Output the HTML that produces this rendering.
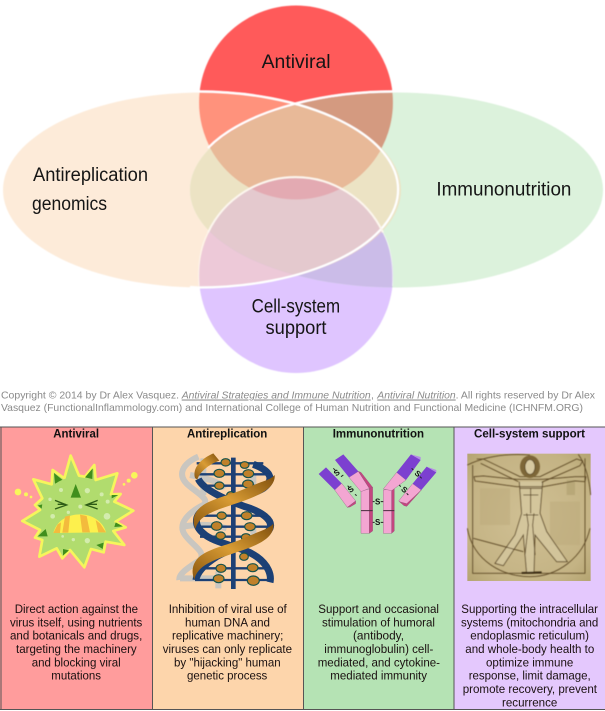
<!DOCTYPE html>
<html><head><meta charset="utf-8"><style>
html,body{margin:0;padding:0;background:#fff}
svg{display:block}
text{font-family:"Liberation Sans",sans-serif}
.v{font-size:19px;fill:#151515}
.c{font-size:10.4px;fill:#8a8a8a}
.i{font-style:italic;text-decoration:underline}
.h{font-size:12.2px;font-weight:bold;fill:#111}
.b{font-size:12.2px;fill:#1a1010}
</style></head><body>
<svg width="605" height="711" viewBox="0 0 605 711" xmlns="http://www.w3.org/2000/svg">
<defs>
<clipPath id="cT"><ellipse cx="296" cy="102.5" rx="97" ry="97"/></clipPath>
<clipPath id="cB"><ellipse cx="296" cy="275.5" rx="97" ry="97.5"/></clipPath>
<clipPath id="cL"><ellipse cx="202" cy="190" rx="199" ry="97.5"/></clipPath>
<clipPath id="cR"><ellipse cx="396.5" cy="190" rx="206.5" ry="97.5"/></clipPath>
<linearGradient id="gold" x1="0" y1="1" x2="1" y2="0">
<stop offset="0" stop-color="#8a5610"/><stop offset=".5" stop-color="#d99c34"/><stop offset="1" stop-color="#7e4e0c"/>
</linearGradient>
<radialGradient id="par" cx=".5" cy=".5" r=".75">
<stop offset="0" stop-color="#d0c094"/><stop offset=".7" stop-color="#c4b384"/><stop offset="1" stop-color="#b0a06c"/>
</radialGradient>
<filter id="s" x="-5%" y="-5%" width="110%" height="110%"><feGaussianBlur stdDeviation=".45"/></filter>
<filter id="s2" x="-5%" y="-5%" width="110%" height="110%"><feGaussianBlur stdDeviation="1.6"/></filter>
</defs>

<!-- Venn -->
<g filter="url(#s)">
<ellipse cx="296" cy="102.5" rx="97" ry="97" fill="#ff5a5a"/>
<ellipse cx="296" cy="275.5" rx="97" ry="97.5" fill="#dfc5ff"/>
<ellipse cx="202" cy="190" rx="199" ry="97.5" fill="#fdebd9"/>
<ellipse cx="396.5" cy="190" rx="206.5" ry="97.5" fill="#dcf2dc"/>
<g clip-path="url(#cL)"><rect width="605" height="400" fill="#ece3c4" clip-path="url(#cR)"/></g>
<g clip-path="url(#cT)">
<rect width="605" height="400" fill="#ff927c" clip-path="url(#cL)"/>
<rect width="605" height="400" fill="#d49a80" clip-path="url(#cR)"/>
<g clip-path="url(#cL)"><rect width="605" height="400" fill="#e8b998" clip-path="url(#cR)"/></g>
</g>
<g clip-path="url(#cB)">
<rect width="605" height="400" fill="#edc9d8" clip-path="url(#cL)"/>
<rect width="605" height="400" fill="#cbbce8" clip-path="url(#cR)"/>
<g clip-path="url(#cL)"><rect width="605" height="400" fill="#e4c9ce" clip-path="url(#cR)"/></g>
<g clip-path="url(#cT)"><rect width="605" height="400" fill="#e3aab2"/></g>
</g>
<path d="M198,91.5 A199 97.5 0 1 1 198,287.5 L190,287" fill="none" stroke="#fff" stroke-width="2.2"/>
<path d="M393,91.5 A206.5 97.5 0 0 0 208,148" fill="none" stroke="#fff" stroke-width="2.2"/>
<path d="M208,232.5 A97 97.5 0 0 1 383,232.5" fill="none" stroke="#fdf6ee" stroke-width="2"/>
<path d="M208,232.5 Q197,252 199,286 M383,232.5 Q394,252 392.5,286" fill="none" stroke="#fff" stroke-width="1" opacity=".55"/>
</g>
<text class="v" x="261.6" y="68" textLength="69" lengthAdjust="spacingAndGlyphs">Antiviral</text>
<text class="v" x="33" y="181" textLength="115" lengthAdjust="spacingAndGlyphs">Antireplication</text>
<text class="v" x="32" y="210" textLength="75" lengthAdjust="spacingAndGlyphs">genomics</text>
<text class="v" x="436.4" y="195.5" textLength="135" lengthAdjust="spacingAndGlyphs">Immunonutrition</text>
<text class="v" x="251.6" y="312.5" textLength="88.5" lengthAdjust="spacingAndGlyphs">Cell-system</text>
<text class="v" x="265.5" y="334" textLength="61" lengthAdjust="spacingAndGlyphs">support</text>

<!-- Copyright -->
<text class="c" x="1" y="398.5" textLength="178" lengthAdjust="spacingAndGlyphs">Copyright © 2014 by Dr Alex Vasquez.</text>
<text class="c i" x="181.7" y="398.5" textLength="189" lengthAdjust="spacingAndGlyphs">Antiviral Strategies and Immune Nutrition</text>
<text class="c" x="371" y="398.5">,</text>
<text class="c i" x="377.3" y="398.5" textLength="78.4" lengthAdjust="spacingAndGlyphs">Antiviral Nutrition</text>
<text class="c" x="455.7" y="398.5" textLength="139.3" lengthAdjust="spacingAndGlyphs">. All rights reserved by Dr Alex</text>
<text class="c" x="1" y="410.8" textLength="582" lengthAdjust="spacingAndGlyphs">Vasquez (FunctionalInflammology.com) and International College of Human Nutrition and Functional Medicine (ICHNFM.ORG)</text>

<!-- Table -->
<rect x="0" y="426.5" width="152.5" height="283" fill="#ff9c9c"/>
<rect x="152.5" y="426.5" width="151" height="283" fill="#fdd5ab"/>
<rect x="303.5" y="426.5" width="150.5" height="283" fill="#b5e3b4"/>
<rect x="454" y="426.5" width="151" height="283" fill="#e4c8fd"/>
<path d="M0,427H605M0,709.5H605M1,427V709.5M152.5,427V709.5M303.5,427V709.5M454,427V709.5" stroke="#555" stroke-width="1" fill="none"/>

<text class="h" x="53.3" y="437.3" textLength="45.7" lengthAdjust="spacingAndGlyphs">Antiviral</text>
<text class="h" x="187" y="437.3" textLength="80.3" lengthAdjust="spacingAndGlyphs">Antireplication</text>
<text class="h" x="332.7" y="437.3" textLength="91.3" lengthAdjust="spacingAndGlyphs">Immunonutrition</text>
<text class="h" x="474" y="437.3" textLength="111" lengthAdjust="spacingAndGlyphs">Cell-system support</text>

<!-- Column 1 text -->
<text class="b" x="14.7" y="613" textLength="123.3" lengthAdjust="spacingAndGlyphs">Direct action against the</text>
<text class="b" x="10" y="626.3" textLength="132.3" lengthAdjust="spacingAndGlyphs">virus itself, using nutrients</text>
<text class="b" x="10" y="639.7" textLength="132.3" lengthAdjust="spacingAndGlyphs">and botanicals and drugs,</text>
<text class="b" x="16" y="653" textLength="120.7" lengthAdjust="spacingAndGlyphs">targeting the machinery</text>
<text class="b" x="31.7" y="666.3" textLength="89" lengthAdjust="spacingAndGlyphs">and blocking viral</text>
<text class="b" x="51.3" y="679.7" textLength="49.7" lengthAdjust="spacingAndGlyphs">mutations</text>
<!-- Column 2 text -->
<text class="b" x="168.7" y="613" textLength="118" lengthAdjust="spacingAndGlyphs">Inhibition of viral use of</text>
<text class="b" x="185" y="626.3" textLength="85" lengthAdjust="spacingAndGlyphs">human DNA and</text>
<text class="b" x="172" y="639.7" textLength="111.3" lengthAdjust="spacingAndGlyphs">replicative machinery;</text>
<text class="b" x="162.7" y="653" textLength="129.3" lengthAdjust="spacingAndGlyphs">viruses can only replicate</text>
<text class="b" x="174" y="666.3" textLength="106.7" lengthAdjust="spacingAndGlyphs">by "hijacking" human</text>
<text class="b" x="187" y="679.7" textLength="80.3" lengthAdjust="spacingAndGlyphs">genetic process</text>
<!-- Column 3 text -->
<text class="b" x="318.3" y="613" textLength="120.7" lengthAdjust="spacingAndGlyphs">Support and occasional</text>
<text class="b" x="322" y="626.3" textLength="113" lengthAdjust="spacingAndGlyphs">stimulation of humoral</text>
<text class="b" x="353" y="639.7" textLength="51" lengthAdjust="spacingAndGlyphs">(antibody,</text>
<text class="b" x="324.3" y="653" textLength="109" lengthAdjust="spacingAndGlyphs">immunoglobulin) cell-</text>
<text class="b" x="317.7" y="666.3" textLength="122.3" lengthAdjust="spacingAndGlyphs">mediated, and cytokine-</text>
<text class="b" x="330.3" y="679.7" textLength="96.7" lengthAdjust="spacingAndGlyphs">mediated immunity</text>
<!-- Column 4 text -->
<text class="b" x="461.3" y="613" textLength="136.7" lengthAdjust="spacingAndGlyphs">Supporting the intracellular</text>
<text class="b" x="461" y="626.3" textLength="137.3" lengthAdjust="spacingAndGlyphs">systems (mitochondria and</text>
<text class="b" x="470.3" y="639.7" textLength="118.7" lengthAdjust="spacingAndGlyphs">endoplasmic reticulum)</text>
<text class="b" x="465.3" y="653" textLength="129" lengthAdjust="spacingAndGlyphs">and whole-body health to</text>
<text class="b" x="486" y="666.3" textLength="87.3" lengthAdjust="spacingAndGlyphs">optimize immune</text>
<text class="b" x="468.7" y="679.7" textLength="122" lengthAdjust="spacingAndGlyphs">response, limit damage,</text>
<text class="b" x="462.7" y="693" textLength="134.3" lengthAdjust="spacingAndGlyphs">promote recovery, prevent</text>
<text class="b" x="502" y="706.3" textLength="55.3" lengthAdjust="spacingAndGlyphs">recurrence</text>

<!-- Virus -->
<g transform="translate(5 445) scale(.3333)" filter="url(#s)">
<polygon points="197,32 222,92 240,95 268,60 272,105 337,85 318,148 347,147 328,170 385,197 332,230 362,247 325,258 358,300 302,290 296,322 258,312 238,367 195,315 172,340 155,310 103,335 112,285 90,278 105,255 52,228 105,195 90,180 112,160 85,103 140,118 143,75 178,100"
 fill="#b1dc6e" stroke="#f6f55c" stroke-width="8" stroke-linejoin="round"/>
<g fill="#3f8f1e">
<polygon points="147,84 175,107 150,116"/><polygon points="263,70 262,102 240,97"/><polygon points="340,150 320,160 320,150"/>
<polygon points="354,244 328,246 332,232"/><polygon points="293,312 274,300 296,293"/><polygon points="174,332 174,312 192,316"/>
<polygon points="98,274 122,252 128,274"/><polygon points="98,182 120,176 112,192"/>
</g>
<circle cx="210" cy="197" r="100" fill="#b1dc6e"/>
<polygon points="212,117 228,158 197,158" fill="#3f8f1e"/>
<path d="M150,166 L185,180 L150,192 M158,178H182 M278,166 L243,180 L278,192 M250,178H276" fill="none" stroke="#2f5c18" stroke-width="4"/>
<path d="M145,264 C155,225 190,208 225,208 C262,208 295,230 303,262 Z" fill="#fdf04e"/>
<path d="M172,263 L180,215 L195,211 L190,263 Z M225,209 L245,213 L255,262 L232,262 Z M145,264 L158,238 L168,232 L165,264 Z M272,225 L285,235 L303,262 L280,262 Z" fill="#f3bb3e"/>
<g fill="#d3ecad"><circle cx="168" cy="135" r="6"/><circle cx="247" cy="137" r="8"/><circle cx="290" cy="148" r="6"/><circle cx="135" cy="163" r="5"/><circle cx="308" cy="170" r="6"/><circle cx="306" cy="214" r="10"/><circle cx="143" cy="214" r="7"/><circle cx="226" cy="185" r="6"/><circle cx="190" cy="202" r="5"/><circle cx="247" cy="287" r="8"/><circle cx="205" cy="284" r="5"/><circle cx="173" cy="274" r="4"/></g>
<g fill="#f8f65a"><circle cx="39" cy="141" r="10"/><circle cx="63" cy="148" r="6"/><circle cx="78" cy="156" r="4"/><circle cx="388" cy="91" r="10"/><circle cx="371" cy="107" r="6"/><circle cx="357" cy="118" r="4"/></g>
</g>

<!-- DNA -->
<g transform="translate(170 445) scale(.3333)" filter="url(#s)">
<g fill="none" stroke="#c9c6c0" stroke-width="18">
<path d="M85,35 C40,55 15,90 60,125 C85,145 120,165 100,180 C60,200 20,235 45,270 C65,300 110,320 90,345 C60,365 25,385 28,405"/>
<path d="M60,90 C110,100 150,110 165,130 M40,245 C90,235 140,240 170,250 M30,400 H150 M145,380V430 M100,40V150 M250,90V150 M250,240V300"/>
</g>
<g fill="none" stroke="#1a3f74" stroke-width="21">
<path d="M250,58 C295,75 320,100 280,130 C240,155 150,165 100,195 C70,215 75,245 100,265 C130,295 220,305 260,335 C295,360 305,390 300,412"/>
<path d="M85,102 C100,135 170,165 225,185 C275,200 310,225 300,250 C285,285 200,300 140,335 C100,360 80,385 78,405"/>
</g>
<g stroke="#1a3f74" stroke-width="7" fill="none">
<path d="M80,55H280M85,88H300M100,122H275M80,212H290M78,245H300M90,275H285M85,370H300M75,405H300"/>
<path d="M190,38V432" stroke-width="14"/>
</g>
<g fill="#c0812a" stroke="#15524c" stroke-width="3.5">
<ellipse cx="167" cy="52" rx="14" ry="11"/><ellipse cx="224" cy="60" rx="13" ry="10"/><ellipse cx="148" cy="85" rx="16" ry="12"/><ellipse cx="235" cy="86" rx="16" ry="12"/><ellipse cx="148" cy="122" rx="14" ry="11"/><ellipse cx="234" cy="117" rx="16" ry="12"/><ellipse cx="182" cy="150" rx="12" ry="10"/>
<ellipse cx="155" cy="212" rx="14" ry="11"/><ellipse cx="230" cy="212" rx="16" ry="12"/><ellipse cx="140" cy="243" rx="16" ry="13"/><ellipse cx="240" cy="245" rx="16" ry="12"/><ellipse cx="152" cy="272" rx="14" ry="11"/><ellipse cx="228" cy="277" rx="14" ry="11"/>
<ellipse cx="222" cy="335" rx="13" ry="11"/><ellipse cx="153" cy="370" rx="15" ry="12"/><ellipse cx="248" cy="368" rx="16" ry="12"/><ellipse cx="146" cy="401" rx="16" ry="12"/><ellipse cx="250" cy="407" rx="18" ry="14"/>
</g>
<g fill="url(#gold)">
<path d="M130,25 L148,47 C114,60 90,80 82,104 L75,99 C66,68 95,40 130,25Z"/>
<path d="M314,90 C318,135 250,158 190,178 C130,198 87,212 76,252 C64,222 74,198 100,180 C135,158 190,148 232,128 C272,110 304,104 314,90Z"/>
<path d="M310,236 C316,284 248,306 188,326 C128,346 82,362 73,404 C60,372 72,344 98,328 C133,306 188,296 230,276 C270,258 300,250 310,236Z"/>
</g>
</g>

<!-- Antibody -->
<g transform="translate(310 445) scale(.3333)" filter="url(#s)">
<g stroke="#8a5578" stroke-width="1">
<polygon points="153,138 178,132 178,265 153,265" fill="#f3a6d2"/>
<polygon points="178,130 188,127 188,258 178,265" fill="#c4457f"/>
<polygon points="220,135 245,132 245,265 220,265" fill="#f3a6d2"/>
<polygon points="245,132 253,127 253,258 245,265" fill="#c4457f"/>
<polygon points="117,97 145,79 178,130 153,140" fill="#f3a6d2"/>
<polygon points="145,79 153,82 188,127 178,130" fill="#c4457f"/>
<polygon points="220,132 260,82 288,105 245,137" fill="#f3a6d2"/>
<polygon points="74,135 95,115 137,168 112,187" fill="#f3a6d2"/>
<polygon points="112,187 137,168 137,176 120,186" fill="#c4457f"/>
<polygon points="266,168 308,116 334,135 290,184" fill="#f3a6d2"/>
<polygon points="334,135 290,184 282,182 268,170 290,176" fill="#c4457f"/>
</g>
<polygon points="75,45 100,28 145,79 117,97" fill="#7b3fd0"/>
<polygon points="26,87 48,67 95,115 74,135" fill="#7b3fd0"/>
<polygon points="260,82 303,28 332,45 288,105" fill="#7b3fd0"/>
<polygon points="308,116 350,65 379,82 334,135" fill="#7b3fd0"/>
<path d="M303,28 L332,36 L332,45 Z M350,65 L379,75 L379,82 Z" fill="#b58ae8"/>
<path d="M153,197H188M220,197H253" stroke="#4a2a3e" stroke-width="3"/>
<path d="M188,170H194M212,170H220M188,232H194M212,232H220M70,70L76,76M93,95L100,90M113,122L118,128M135,148L140,152M305,70L310,75M330,95L335,100M268,120L272,125M290,145L295,150" stroke="#222" stroke-width="3"/>
<g font-size="24" font-weight="bold" fill="#111" text-anchor="middle">
<text x="203" y="178">S</text><text x="203" y="240">S</text>
<text transform="translate(85 90) rotate(-35)">S</text>
<text transform="translate(127 140) rotate(-35)">S</text>
<text transform="translate(318 92) rotate(40)">S</text>
<text transform="translate(278 140) rotate(40)">S</text>
</g>
</g>

<!-- Vitruvian -->
<g transform="translate(460 445) scale(.3333)">
<rect x="22" y="26" width="370" height="382" fill="url(#par)"/>
<g filter="url(#s2)">
<rect x="320" y="105" width="25" height="45" fill="#a99a6a" opacity=".5"/>
<path d="M60,130 H150 V240 H60Z M270,170 H360 V300 H270Z" fill="#bba97a" opacity=".5"/>
<path d="M178,110 L185,205 L165,270 L105,355 L130,362 L190,270 L200,385 L222,385 L225,270 L290,350 L322,350 L260,260 L240,205 L248,110 Z" fill="#d6c8a0" opacity=".75"/>
<g fill="none" stroke="#5d4825" stroke-width="2.6">
<path d="M38,60V385H375V40"/>
<path d="M22,250 C40,350 130,395 210,395 C290,395 370,340 390,250"/>
<path d="M22,60 Q100,22 210,30 M355,28 Q385,70 392,150"/>
<path d="M50,42 L70,42 L180,95 L240,95 L350,42 L368,48 L360,62 L245,112 M62,55 L175,110"/>
<path d="M42,95 L70,93 L170,103 L250,103 L345,95 L378,95 L375,110 L345,108 L250,125 L170,125 L75,112 L45,108 Z"/>
<path d="M178,110 L185,205 L165,270 L105,355 L130,362 L190,270 L200,385 L222,385 L225,270 L290,350 L322,350 L260,260 L240,205 L248,110"/>
<path d="M190,210 H235 M200,205 L205,240 L195,330 M222,205 L218,240 L225,330 M180,130 H245 M190,150 H235 M212,130 V205 M40,280 L190,320"/>
</g>
<ellipse cx="210" cy="65" rx="30" ry="34" fill="#7d6638"/>
<ellipse cx="210" cy="66" rx="15" ry="22" fill="#d6c8a0" stroke="#4f3c1c" stroke-width="2"/>
<path d="M185,384 L245,382" stroke="#3c2d12" stroke-width="6"/>
</g>
</g>
</svg>
</body></html>
